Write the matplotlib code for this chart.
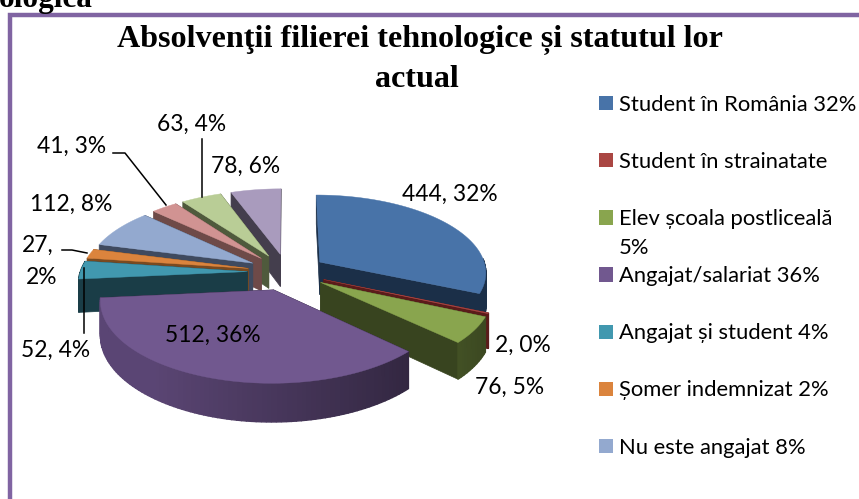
import numpy as np
import matplotlib
matplotlib.use("Agg")
import matplotlib.pyplot as plt
from matplotlib.colors import to_rgb
from matplotlib.patches import Patch

# ---- data ----
values = [444, 2, 76, 512, 52, 27, 112, 41, 63, 78]
percents = [32, 0, 5, 36, 4, 2, 8, 3, 4, 6]
top_colors = ["#4873A8", "#AA4643", "#89A54E", "#71588F", "#4198AF",
              "#DB843D", "#93A9CF", "#D19392", "#B9CD96", "#A99BBD"]
side_colors = ["#1B2F48", "#5A1B1A", "#38441F", "#2B2137", "#1A3D47",
               "#7A4A20", "#3F4A5F", "#6E4A48", "#4F5A3C", "#443E4D"]
legend_labels = ["Student în România 32%", "Student în strainatate",
                 "Elev școala postliceală", "Angajat/salariat 36%",
                 "Angajat și student 4%", "Șomer indemnizat 2%",
                 "Nu este angajat 8%"]
title_lines = ["Absolvenţii filierei tehnologice și statutul lor", "actual"]

W, H = 859, 499
fig = plt.figure(figsize=(W / 100, H / 100), dpi=100, facecolor="white")
ax = fig.add_axes([0, 0, 1, 1])
ax.set_xlim(0, W)
ax.set_ylim(H, 0)
ax.axis("off")

FRAME = "#8064A2"
ax.plot([10, 10, W + 5], [H + 5, 15, 15], color=FRAME, lw=3.2, solid_joinstyle="miter", zorder=1)
ax.text(-1, 7, "ologica", family="Liberation Serif", weight="bold", fontsize=22.5, va="baseline", ha="left", color="black", clip_on=False, zorder=5)

# ---- projection of the exploded pie ----
CX, CY = 287, 272
A, K, U = 167, 77.4, 0.1207
DEPTH = 33
EXPLODE = 0.238


def project(x, y, drop=0.0):
    s = 1 / (1 + U * y)
    return CX + A * x * s, CY - K * y * s + drop * s


total = sum(values)
edges = np.cumsum([0] + values) / total * 2 * np.pi
mids = (edges[:-1] + edges[1:]) / 2


def slice_points(i):
    t = np.linspace(edges[i], edges[i + 1], max(int((edges[i + 1] - edges[i]) * 40), 3))
    ox, oy = EXPLODE * np.sin(mids[i]), EXPLODE * np.cos(mids[i])
    return ox, oy, ox + np.sin(t), oy + np.cos(t)


order = sorted(range(len(values)), key=lambda i: -(EXPLODE + 1) * np.cos(mids[i]))
zo = 2
for i in order:
    ox, oy, xs, ys = slice_points(i)
    top, side = top_colors[i], np.array(to_rgb(side_colors[i]))
    # radial faces
    for xe, ye in ((xs[0], ys[0]), (xs[-1], ys[-1])):
        p = [project(ox, oy), project(xe, ye), project(xe, ye, DEPTH), project(ox, oy, DEPTH)]
        ax.fill(*zip(*p), color=side, lw=0.5, zorder=zo)
    # outer wall with a left-to-right shade
    for j in range(len(xs) - 1):
        if np.cos(edges[i]) < 0 or ys[j] - oy < 0.05:
            p = [project(xs[j], ys[j]), project(xs[j + 1], ys[j + 1]),
                 project(xs[j + 1], ys[j + 1], DEPTH), project(xs[j], ys[j], DEPTH)]
            shade = 1.0
            if np.cos(mids[i]) < -0.5:
                shade = 1 + 1.1 * np.clip(0.62 - (xs[j] - ox) * 0.62, 0, 1)
            ax.fill(*zip(*p), color=np.clip(side * shade, 0, 1), lw=1.0, zorder=zo)
    # top surface
    pts = [project(ox, oy)] + [project(a, b) for a, b in zip(xs, ys)]
    ax.fill(*zip(*pts), color=top, lw=0.3, zorder=zo)
    zo += 1

# ---- title ----
ax.text(419.5, 47, title_lines[0], family="Liberation Serif", weight="bold", fontsize=23.1, ha="center", va="baseline", zorder=30)
ax.text(417, 87, title_lines[1], family="Liberation Serif", weight="bold", fontsize=23.1, ha="center", va="baseline", zorder=30)

# ---- data labels ----
LABEL_SIZE = 16.4
label_xy = [(450, 194), (523, 345), (510, 387), (213, 335), (56, 350),
            None, (71, 204), (72, 146), (192, 124), (246, 166)]
for i, xy in enumerate(label_xy):
    if xy is not None:
        ax.text(*xy, f"{values[i]}, {percents[i]}%", family="Lato", fontsize=LABEL_SIZE, ha="center", va="center", zorder=30)
ax.text(38, 245, f"{values[5]},", family="Lato", fontsize=LABEL_SIZE, ha="center", va="center", zorder=30)
ax.text(42, 277, f"{percents[5]}%", family="Lato", fontsize=LABEL_SIZE, ha="center", va="center", zorder=30)

# leader lines
for lx, ly in (([113, 125, 166], [153, 153, 205]), ([202, 202], [139, 197]),
               ([62, 72, 87], [250, 250, 253]), ([84, 84], [268, 333])):
    ax.plot(lx, ly, color="black", lw=1.1, zorder=31)

# ---- legend ----
LEGEND_SIZE = 15.8
handles = [Patch(facecolor=c, edgecolor="none") for c in top_colors[:len(legend_labels)]]
leg = ax.legend(handles, legend_labels, loc="upper left", bbox_to_anchor=(599 / W, 1 - 95 / H),
                bbox_transform=fig.transFigure, frameon=False, prop={"family": "Lato", "size": LEGEND_SIZE},
                handlelength=0.62, handleheight=0.62, handletextpad=0.28, labelspacing=1.69, borderpad=0, borderaxespad=0)
leg.set_zorder(30)
ax.text(619, 248, "5%", family="Lato", fontsize=LEGEND_SIZE, ha="left", va="center", zorder=30)

fig.savefig("out.png", dpi=100, facecolor="white")
